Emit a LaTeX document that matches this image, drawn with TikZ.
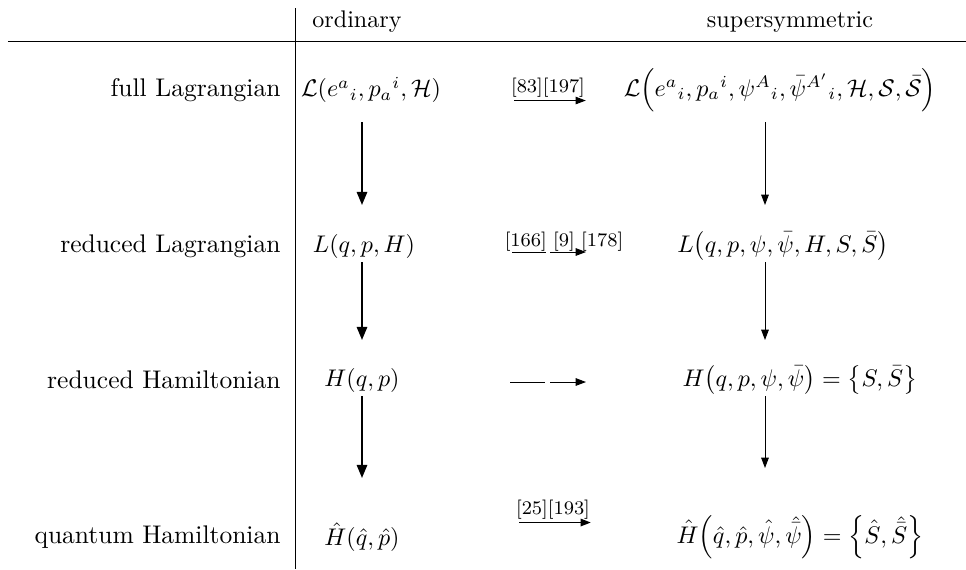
\documentclass[tikz,border=0pt]{standalone}
\usepackage{amsmath,amssymb}
\usetikzlibrary{arrows.meta,calc}

\begin{document}
\begin{tikzpicture}[x=0.0146cm,y=-0.0146cm,
  rowlab/.style={anchor=east,font=\fontsize{10.6}{12.7}\selectfont},
  down/.style={thick,-{Triangle[length=1.9mm,width=1.5mm]}},
  sdown/.style={-{Triangle[length=1.5mm,width=1.1mm]}},
  harr/.style={-{Triangle[length=1.5mm,width=1.1mm]}},
  cite/.style={font=\footnotesize,inner sep=1pt}]
\useasboundingbox (0,0) rectangle (966,569);
% table rules
\coordinate (hl) at (8,41); \coordinate (hr) at (966,41);
\coordinate (vt) at (295,8); \coordinate (vb) at (295,569);
\draw (hl) -- (hr);
\draw (vt) -- (vb);
\node (hOrd) at (357,22) {ordinary};
\node (hSup) at (790,22) {supersymmetric};
% row labels
\foreach \r/\y/\t in {1/90/full Lagrangian, 2/246/reduced Lagrangian,
    3/380/reduced Hamiltonian, 4/537/quantum Hamiltonian}
  \node[rowlab] (lab\r) at (289,\y) {\t};
% ordinary column
\node (o1) at (371,90) {$\mathcal{L}(e^a{}_i, p_a{}^i, \mathcal{H})$};
\node (o2) at (364,246) {$L(q,p,H)$};
\node (o3) at (362,380) {$H(q,p)$};
\node (o4) at (362,537) {$\hat{H}(\hat{q},\hat{p})$};
% supersymmetric column
\node (s1) at (780,90) {$\mathcal{L}\Bigl(e^a{}_i, p_a{}^i, \psi^A{}_i, \bar{\psi}^{A'}{}_i, \mathcal{H}, \mathcal{S}, \bar{\mathcal{S}}\Bigr)$};
\node (s2) at (783,246) {$L\bigl(q,p,\psi,\bar{\psi},H,S,\bar{S}\bigr)$};
\node (s3) at (800,380) {$H\bigl(q,p,\psi,\bar{\psi}\bigr) = \bigl\{S,\bar{S}\bigr\}$};
\node (s4) at (800,537) {$\hat{H}\Bigl(\hat{q},\hat{p},\hat{\psi},\hat{\bar{\psi}}\Bigr) = \Bigl\{\hat{S},\hat{\bar{S}}\Bigr\}$};
% vertical arrows
\coordinate (ox) at (362,0);
\draw[down] ($(o1 -| ox)+(0,32)$) -- ($(o2 -| ox)+(0,-41)$);
\draw[down] ($(o2 -| ox)+(0,16)$) -- ($(o3 -| ox)+(0,-40)$);
\draw[down] ($(o3 -| ox)+(0,16)$) -- ($(o4 -| ox)+(0,-59)$);
\coordinate (sx) at (765,0);
\draw[sdown] ($(s1 -| sx)+(0,32)$) -- ($(s2 -| sx)+(0,-41)$);
\draw[sdown] ($(s2 -| sx)+(0,16)$) -- ($(s3 -| sx)+(0,-40)$);
\draw[sdown] ($(s3 -| sx)+(0,16)$) -- ($(s4 -| sx)+(0,-69)$);
% horizontal arrows with citations
\node[cite] (c1) at (548,88) {[83][197]};
\draw[harr] ($(c1.south west)+(6,0)$) -- ($(c1.south east)+(-2,0)$);
\node[cite] (c2) at (564,242) {[166]\,\,[9]\,\,[178]};
\coordinate (m2a) at (512,252); \coordinate (m2b) at (546,252);
\coordinate (m2c) at (550,252); \coordinate (m2d) at (586,252);
\draw (m2a) -- (m2b);
\draw[harr] (m2c) -- (m2d);
\coordinate (m3a) at (510,382); \coordinate (m3b) at (545,382);
\coordinate (m3c) at (550,382); \coordinate (m3d) at (586,382);
\draw (m3a) -- (m3b);
\draw[harr] (m3c) -- (m3d);
\node[cite] (c4) at (553,510) {[25][193]};
\draw[harr,semithick] ($(c4.south west)+(6,0)$) -- ($(c4.south east)+(-2,0)$);
\end{tikzpicture}
\end{document}
